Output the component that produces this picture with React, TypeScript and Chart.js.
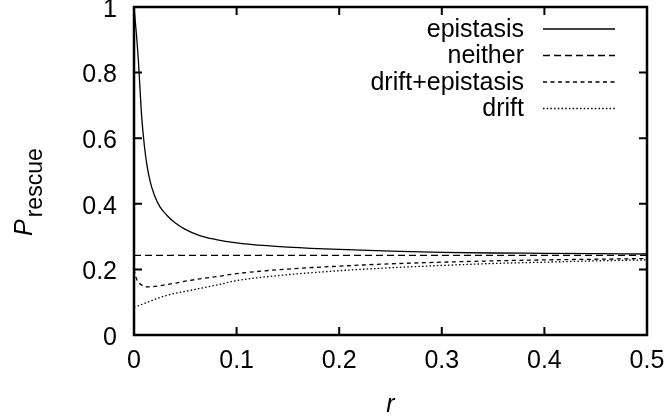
import React, { useEffect, useRef } from "react";
import { Chart, registerables } from "chart.js";

Chart.register(...registerables);

const rValues = [0, 0.002, 0.004, 0.0075, 0.01, 0.0125, 0.0156, 0.02, 0.025, 0.032, 0.04, 0.05, 0.064, 0.08, 0.1, 0.125, 0.15, 0.2, 0.25, 0.3, 0.35, 0.4, 0.45, 0.5];
const epistasis = [1.0, 0.93, 0.85, 0.665, 0.58, 0.52, 0.47, 0.425, 0.392, 0.365, 0.342, 0.322, 0.303, 0.291, 0.281, 0.273, 0.268, 0.261, 0.256, 0.252, 0.25, 0.249, 0.248, 0.247];
const neither = [0.243, 0.243, 0.243, 0.243, 0.243, 0.243, 0.243, 0.243, 0.243, 0.243, 0.243, 0.243, 0.243, 0.243, 0.243, 0.243, 0.243, 0.243, 0.243, 0.243, 0.243, 0.243, 0.243, 0.243];
const driftEpistasis = [0.2, 0.175, 0.162, 0.152, 0.148, 0.147, 0.147, 0.148, 0.15, 0.154, 0.158, 0.164, 0.171, 0.178, 0.187, 0.195, 0.201, 0.21, 0.217, 0.222, 0.226, 0.229, 0.231, 0.233];
const drift = [0.085, 0.087, 0.089, 0.093, 0.096, 0.099, 0.103, 0.108, 0.114, 0.121, 0.127, 0.133, 0.142, 0.152, 0.166, 0.176, 0.184, 0.196, 0.205, 0.212, 0.218, 0.222, 0.226, 0.229];

const seriesNames = ["epistasis", "neither", "drift+epistasis", "drift"];
const xTicks = [0, 0.1, 0.2, 0.3, 0.4, 0.5];
const yTicks = [0, 0.2, 0.4, 0.6, 0.8, 1];
const xTitle = "r";
const yTitleMain = "P";
const yTitleSub = "rescue";

const FONT = "'Liberation Sans', Arial, Helvetica, sans-serif";
const dashes: number[][] = [[], [7, 4], [4, 3.5], [1.5, 2.2]];

export default function App() {
  const ref = useRef<HTMLCanvasElement | null>(null);
  useEffect(() => {
    const canvas = ref.current!;
    const allSeries = [epistasis, neither, driftEpistasis, drift];
    const datasets = allSeries.map((s, i) => ({
      label: seriesNames[i],
      data: s.map((v, j) => ({ x: rValues[j], y: v })),
      borderColor: "#000",
      borderWidth: 1.3,
      borderDash: dashes[i],
      pointRadius: 0,
      fill: false,
      cubicInterpolationMode: "monotone" as const,
    }));

    const framePlugin = {
      id: "frame",
      afterDraw(chart: any) {
        const ctx = chart.ctx;
        const a = chart.chartArea;
        const xs = chart.scales.x;
        const ys = chart.scales.y;
        ctx.save();
        ctx.strokeStyle = "#000";
        ctx.lineWidth = 2.5;
        ctx.setLineDash([]);
        ctx.strokeRect(a.left, a.top, a.right - a.left, a.bottom - a.top);
        ctx.lineWidth = 2;
        const tl = 8;
        xTicks.forEach((v) => {
          const px = xs.getPixelForValue(v);
          ctx.beginPath();
          ctx.moveTo(px, a.bottom);
          ctx.lineTo(px, a.bottom - tl);
          ctx.moveTo(px, a.top);
          ctx.lineTo(px, a.top + tl);
          ctx.stroke();
        });
        yTicks.forEach((v) => {
          const py = ys.getPixelForValue(v);
          ctx.beginPath();
          ctx.moveTo(a.left, py);
          ctx.lineTo(a.left + tl, py);
          ctx.moveTo(a.right, py);
          ctx.lineTo(a.right - tl, py);
          ctx.stroke();
        });
        // legend
        ctx.fillStyle = "#000";
        ctx.font = `25px ${FONT}`;
        ctx.textAlign = "right";
        ctx.textBaseline = "middle";
        seriesNames.forEach((name, i) => {
          const y = 29 + i * 26.5;
          ctx.fillText(name, 524, y + 1);
          ctx.lineWidth = 1.3;
          ctx.setLineDash(dashes[i]);
          ctx.beginPath();
          ctx.moveTo(543, y);
          ctx.lineTo(615, y);
          ctx.stroke();
        });
        ctx.setLineDash([]);
        // x title
        ctx.font = `italic 25px ${FONT}`;
        ctx.textAlign = "center";
        ctx.textBaseline = "alphabetic";
        ctx.fillText(xTitle, (a.left + a.right) / 2, 412);
        // y title
        ctx.save();
        ctx.translate(32, 236);
        ctx.rotate(-Math.PI / 2);
        ctx.textAlign = "left";
        ctx.font = `italic 25px ${FONT}`;
        ctx.fillText(yTitleMain, 0, 0);
        const w = ctx.measureText(yTitleMain).width;
        ctx.font = `23px ${FONT}`;
        ctx.fillText(yTitleSub, w + 2, 10);
        ctx.restore();
        ctx.restore();
      },
    };

    const chart = new Chart(canvas, {
      type: "line",
      data: { datasets },
      options: {
        animation: false,
        responsive: false,
        maintainAspectRatio: false,
        layout: { padding: { top: 7, right: 24, left: 0, bottom: 0 } },
        plugins: { legend: { display: false }, tooltip: { enabled: false } },
        scales: {
          x: {
            type: "linear",
            min: 0,
            max: 0.5,
            grid: { display: false, drawTicks: false },
            border: { display: false },
            afterBuildTicks: (s: any) => {
              s.ticks = xTicks.map((v) => ({ value: v }));
            },
            afterFit: (s: any) => {
              s.height = 418 - 335;
              s.paddingLeft = 0;
              s.paddingRight = 0;
            },
            ticks: {
              color: "#000",
              font: { family: FONT, size: 25 },
              padding: 11,
              maxRotation: 0,
              autoSkip: false,
              callback: (v: any) => String(Number(v)),
            },
          },
          y: {
            type: "linear",
            min: 0,
            max: 1,
            grid: { display: false, drawTicks: false },
            border: { display: false },
            afterBuildTicks: (s: any) => {
              s.ticks = yTicks.map((v) => ({ value: v }));
            },
            afterFit: (s: any) => {
              s.width = 134;
              s.paddingTop = 0;
              s.paddingBottom = 0;
            },
            ticks: {
              color: "#000",
              font: { family: FONT, size: 25 },
              padding: 17,
              labelOffset: 3,
              autoSkip: false,
              callback: (v: any) => String(Number(v)),
            },
          },
        },
      },
      plugins: [framePlugin],
    });
    return () => chart.destroy();
  }, []);

  return (
    <div style={{ position: "absolute", left: 0, top: 0, width: 671, height: 418, background: "#fff" }}>
      <canvas ref={ref} width={671} height={418} />
    </div>
  );
}
